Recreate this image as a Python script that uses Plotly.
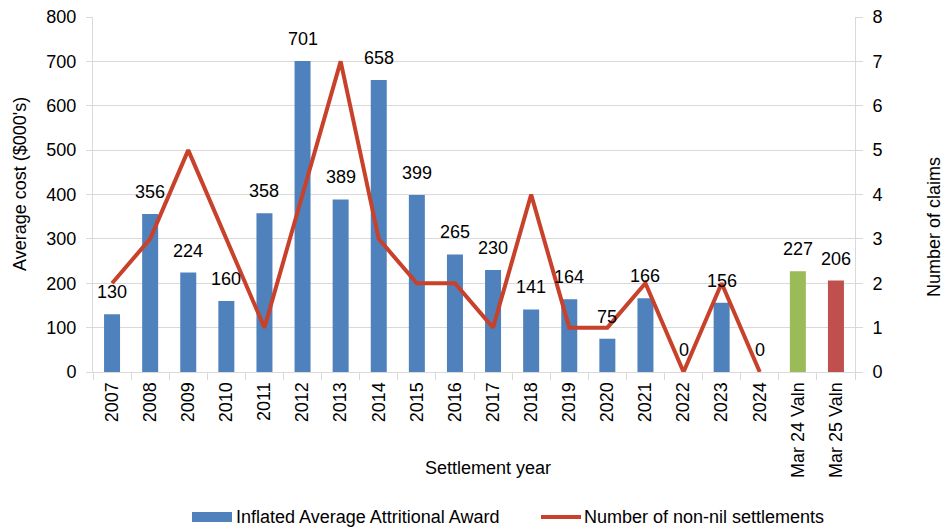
import plotly.graph_objects as go

categories = ["2007", "2008", "2009", "2010", "2011", "2012", "2013", "2014", "2015", "2016",
              "2017", "2018", "2019", "2020", "2021", "2022", "2023", "2024", "Mar 24 Valn", "Mar 25 Valn"]
avg_award = [130, 356, 224, 160, 358, 701, 389, 658, 399, 265, 230, 141, 164, 75, 166, 0, 156, 0, 227, 206]
bar_colors = ["#4F81BD"] * 18 + ["#9BBB59", "#C0504D"]
line_categories = categories[:18]
num_settlements = [2, 3, 5, 3, 1, 4, 7, 3, 2, 2, 1, 4, 1, 1, 2, 0, 2, 0]

BAR_NAME = "Inflated Average Attritional Award"
LINE_NAME = "Number of non-nil settlements"

FONT = "Liberation Sans, Arial, sans-serif"
FS = 18
grid = "#D9D9D9"
LINE_COLOR = "#C8412B"

W, H = 946, 529
L, R, T, B = 93, 91, 17, 157
PW, PH = W - L - R, H - T - B


def px_x(px):
    return (px - L) / PW


def px_y(py):
    return (H - B - py) / PH


fig = go.Figure()
fig.add_trace(go.Bar(
    x=categories, y=avg_award, marker_color=bar_colors, width=0.42,
    marker_line_width=0, name=BAR_NAME, showlegend=False,
))
fig.add_trace(go.Scatter(
    x=line_categories, y=num_settlements, mode="lines", yaxis="y2",
    line=dict(color=LINE_COLOR, width=4), name=LINE_NAME, showlegend=False,
))

annotations = []
for i, v in enumerate(avg_award):
    annotations.append(dict(
        x=i, y=v, xref="x", yref="y", text=str(v), showarrow=False,
        yanchor="bottom", yshift=10, font=dict(size=FS, family=FONT, color="#000000"),
    ))

# axis titles
annotations.append(dict(x=px_x(20), y=px_y(184), xref="paper", yref="paper", text="Average cost ($000's)",
                        textangle=-90, showarrow=False, xanchor="center", yanchor="middle",
                        font=dict(size=FS, family=FONT)))
annotations.append(dict(x=px_x(934), y=px_y(227), xref="paper", yref="paper", text="Number of claims",
                        textangle=-90, showarrow=False, xanchor="center", yanchor="middle",
                        font=dict(size=FS, family=FONT)))
annotations.append(dict(x=px_x(488), y=px_y(468), xref="paper", yref="paper", text="Settlement year",
                        showarrow=False, xanchor="center", yanchor="middle",
                        font=dict(size=FS, family=FONT)))
# legend texts
annotations.append(dict(x=px_x(234), y=px_y(517), xref="paper", yref="paper", text=BAR_NAME,
                        showarrow=False, xanchor="left", yanchor="middle",
                        font=dict(size=FS, family=FONT)))
annotations.append(dict(x=px_x(582), y=px_y(517), xref="paper", yref="paper", text=LINE_NAME,
                        showarrow=False, xanchor="left", yanchor="middle",
                        font=dict(size=FS, family=FONT)))

shapes = [
    dict(type="rect", xref="paper", yref="paper", x0=px_x(192), x1=px_x(232),
         y0=px_y(522), y1=px_y(512), fillcolor="#4F81BD", line=dict(width=0)),
    dict(type="line", xref="paper", yref="paper", x0=px_x(541), x1=px_x(581),
         y0=px_y(517), y1=px_y(517), line=dict(color=LINE_COLOR, width=4)),
]

fig.update_layout(
    width=W, height=H,
    margin=dict(l=L, r=R, t=T, b=B, autoexpand=False),
    paper_bgcolor="white", plot_bgcolor="white",
    font=dict(family=FONT, size=FS, color="#000000"),
    showlegend=False,
    xaxis=dict(
        type="category", range=[-0.5, len(categories) - 0.5], tickangle=-90, showgrid=False,
        automargin=False, showline=True, linecolor=grid, linewidth=1,
        ticks="outside", tickson="boundaries", ticklen=7, tickcolor=grid,
        tickfont=dict(size=FS), ticklabelstandoff=2,
    ),
    yaxis=dict(
        range=[0, 800], dtick=100, showgrid=True, gridcolor=grid, gridwidth=1,
        showline=True, linecolor=grid, ticks="outside", ticklen=6, tickcolor=grid,
        zeroline=False, tickfont=dict(size=FS), automargin=False, ticklabelstandoff=6,
    ),
    yaxis2=dict(
        range=[0, 8], dtick=1, overlaying="y", side="right", showgrid=False,
        showline=True, linecolor=grid, ticks="outside", ticklen=7, tickcolor=grid,
        zeroline=False, tickfont=dict(size=FS), automargin=False, ticklabelstandoff=6,
    ),
    annotations=annotations,
    shapes=shapes,
)

fig.write_html("out.html", config={"displayModeBar": False},
               post_script="document.body.style.margin='0';")
